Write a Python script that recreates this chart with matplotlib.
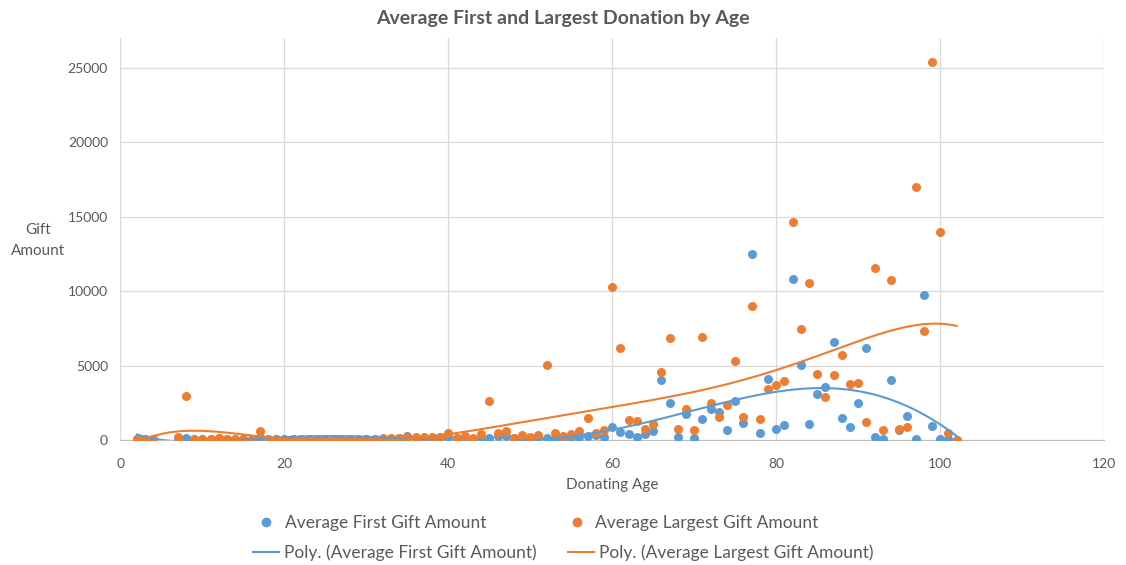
import numpy as np
import matplotlib
matplotlib.use("Agg")
import matplotlib.pyplot as plt
from matplotlib.lines import Line2D

plt.rcParams["font.family"] = ["Lato", "DejaVu Sans"]

ages = [2, 3, 4, 7, 8, 9, 10, 11, 12, 13, 14, 15, 16, 17, 18, 19, 20, 21, 22,
        23, 24, 25, 26, 27, 28, 29, 30, 31, 32, 33, 34, 35, 36, 37, 38, 39, 40,
        41, 42, 43, 44, 45, 46, 47, 48, 49, 50, 51, 52, 53, 54, 55, 56, 57, 58,
        59, 60, 61, 62, 63, 64, 65, 66, 67, 68, 69, 70, 71, 72, 73, 74, 75, 76,
        77, 78, 79, 80, 81, 82, 83, 84, 85, 86, 87, 88, 89, 90, 91, 92, 93, 94,
        95, 96, 97, 98, 99, 100, 101, 102]

first_gift = [60, 40, 50, 150, 120, 60, 80, 90, 120, 60, 60, 60, 70, 200, 40,
              40, 50, 40, 50, 40, 50, 40, 50, 60, 50, 50, 60, 70, 80, 100, 120,
              290, 140, 150, 130, 170, 200, 120, 150, 100, 100, 110, 250, 300,
              120, 150, 140, 200, 150, 150, 150, 200, 220, 270, 350, 200, 900,
              540, 420, 180, 380, 580, 4030, 2480, 220, 1720, 110, 1410, 2060,
              1880, 670, 2620, 1120, 12480, 490, 4090, 740, 980, 10830, 5030,
              1100, 3110, 3560, 6580, 1450, 900, 2460, 6170, 180, 50, 4030, 650,
              1630, 50, 9730, 920, 50, 50, 0]

largest_gift = [60, 40, 50, 200, 2970, 60, 80, 100, 160, 40, 40, 40, 50, 610, 50,
                60, 70, 50, 60, 60, 70, 50, 80, 100, 70, 60, 80, 100, 120, 120,
                160, 200, 170, 200, 170, 200, 450, 160, 270, 120, 400, 2600, 480,
                600, 160, 360, 180, 360, 5060, 450, 290, 430, 600, 1500, 490, 650,
                10250, 6150, 1340, 1280, 760, 1100, 4600, 6830, 760, 2060, 650,
                6930, 2460, 1540, 2330, 5280, 1540, 9000, 1410, 3400, 3670, 3960,
                14650, 7430, 10560, 4450, 2890, 4380, 5680, 3740, 3850, 1230,
                11570, 670, 10780, 720, 900, 16980, 7310, 25400, 14000, 450, 0]

blue = "#5B9BD5"
orange = "#ED7D31"
grey = "#595959"

fig = plt.figure(figsize=(11.26, 5.65), dpi=100)
ax = fig.add_axes([0.107, 0.2212, 0.8735, 0.7115])

ax.scatter(ages, first_gift, s=42, color=blue, zorder=3, linewidths=0)
ax.scatter(ages, largest_gift, s=42, color=orange, zorder=3, linewidths=0)

# 6th order polynomial trendlines, like Excel's "Poly." option
x = np.array(ages, dtype=float)
xs = np.linspace(x.min(), x.max(), 300)
fit_first = np.polyfit(x, first_gift, 6)
fit_largest = np.polyfit(x, largest_gift, 6)
ax.plot(xs, np.polyval(fit_first, xs), color=blue, lw=1.5, zorder=4)
ax.plot(xs, np.polyval(fit_largest, xs), color=orange, lw=1.5, zorder=4)

ax.set_xlim(0, 120)
ax.set_ylim(0, 27000)
ax.set_xticks(range(0, 121, 20))
ax.set_yticks(range(0, 25001, 5000))
ax.grid(True, color="#D9D9D9", lw=0.9)
ax.set_axisbelow(True)
for side in ["top", "right", "left"]:
    ax.spines[side].set_visible(False)
ax.spines["bottom"].set_color("#BFBFBF")
ax.tick_params(length=0, labelsize=10, colors=grey)
ax.tick_params(axis="y", pad=9)
ax.tick_params(axis="x", pad=13)

fig.text(0.5, 0.968, "Average First and Largest Donation by Age", fontsize=14,
         fontweight="bold", color=grey, ha="center", va="center")
ax.set_xlabel("Donating Age", fontsize=11, color=grey, labelpad=6)
fig.text(0.034, 0.574, "Gift\nAmount", fontsize=11, color=grey,
         ha="center", va="center", linespacing=1.6)

row1 = [Line2D([], [], ls="none", marker="o", ms=6, color=blue),
        Line2D([], [], ls="none", marker="o", ms=6, color=orange)]
row2 = [Line2D([], [], color=blue, lw=1.5),
        Line2D([], [], color=orange, lw=1.5)]
leg_kw = dict(ncol=2, frameon=False, fontsize=12.5, labelcolor=grey,
              handletextpad=0.3, handlelength=1.5)
fig.legend(row1, ["Average First Gift Amount", "Average Largest Gift Amount"],
           loc="center", bbox_to_anchor=(0.476, 0.075), columnspacing=4.5,
           **leg_kw)
fig.legend(row2, ["Poly. (Average First Gift Amount)",
                  "Poly. (Average Largest Gift Amount)"],
           loc="center", bbox_to_anchor=(0.5, 0.022), columnspacing=1.8,
           **leg_kw)

fig.savefig("out.png", dpi=100)
